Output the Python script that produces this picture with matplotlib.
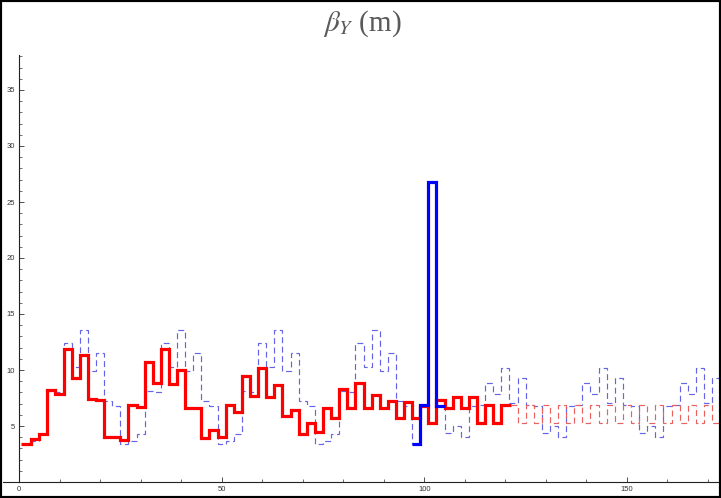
import numpy as np
import matplotlib
matplotlib.use("Agg")
import matplotlib.pyplot as plt
from matplotlib.patches import Rectangle
from matplotlib.ticker import MultipleLocator

plt.rcParams["mathtext.fontset"] = "stix"

# --- data: beta_Y (m) along the line, piecewise constant per element ---
# lattice reference (thin dashed blue)
blue_edges = [1, 3, 5, 7, 9, 11, 13, 15, 17, 19, 21, 23, 25, 27, 29, 31, 33, 35, 37, 39,
              41, 43, 45, 47, 49, 51, 53, 55, 57, 59, 61, 63, 65, 67, 69, 71, 73, 75, 77,
              79, 81, 83, 85, 87, 89, 91, 93, 95, 97, 99, 101, 103, 105, 107, 109, 111,
              113, 115, 117, 119, 121, 123, 125, 127, 129, 131, 133, 135, 137, 139, 141,
              143, 145, 147, 149, 151, 153, 155, 157, 159, 161, 163, 165, 167, 169, 171,
              173]
blue_beta = [3.4, 3.7, 4.25, 8.15, 8.05, 12.4, 10.3, 13.6, 9.95, 11.55, 7.25, 6.8,
             3.4, 3.7, 4.25, 8.15, 8.05, 12.4, 10.3, 13.6, 9.95, 11.55, 7.25, 6.8,
             3.4, 3.7, 4.25, 8.15, 8.05, 12.4, 10.3, 13.6, 9.95, 11.55, 7.25, 6.8,
             3.4, 3.7, 4.25, 8.15, 8.05, 12.4, 10.3, 13.6, 9.95, 11.55, 7.25, 6.8,
             3.4, 6.9, 26.8, 6.8,
             4.35, 5.0, 4.05, 6.8, 6.9, 8.87, 7.9, 10.15, 7.05, 9.26, 6.9, 6.8,
             4.35, 5.0, 4.05, 6.8, 6.9, 8.87, 7.9, 10.15, 7.05, 9.26, 6.9, 6.8,
             4.35, 5.0, 4.05, 6.8, 6.9, 8.87, 7.9, 10.15, 7.05, 9.26]

# matched line (thick red)
red_edges = [0.5, 3, 5, 7, 9, 11, 13, 15, 17, 19, 21, 23, 25, 27, 29, 31, 33, 35, 37, 39,
             41, 43, 45, 47, 49, 51, 53, 55, 57, 59, 61, 63, 65, 67, 69, 71, 73, 75, 77,
             79, 81, 83, 85, 87, 89, 91, 93, 95, 97, 99, 101, 103, 105, 107, 109, 111,
             113, 115, 117, 119, 121.4]
red_beta = [3.4, 3.8, 4.3, 8.2, 7.9, 11.85, 9.3, 11.3, 7.4, 7.3, 4.05, 4.05,
            3.75, 6.85, 6.7, 10.7, 8.8, 11.9, 8.75, 10.0, 6.6, 6.6, 3.9, 4.6,
            4.05, 6.85, 6.25, 9.5, 7.7, 10.15, 7.6, 8.65, 5.9, 6.4, 4.25, 5.3,
            4.45, 6.65, 5.7, 8.3, 6.6, 8.8, 6.65, 7.75, 6.6, 7.2, 5.7, 7.1,
            5.7, 6.75, 5.25, 7.3, 6.6, 7.55, 6.6, 7.55, 5.3, 6.9, 5.3, 6.9]

# periodic continuation (thin dashed red)
red_cont_edges = [121.4, 123, 125, 127, 129, 131, 133, 135, 137, 139, 141, 143, 145, 147,
                  149, 151, 153, 155, 157, 159, 161, 163, 165, 167, 169, 171, 173]
red_cont_beta = [6.9, 5.3, 6.9, 5.3, 6.9, 5.3, 6.9, 5.3, 6.9, 5.3, 6.9, 5.3, 6.9,
                 5.3, 6.9, 5.3, 6.9, 5.3, 6.9, 5.3, 6.9, 5.3, 6.9, 5.3, 6.9, 5.3]

# insertion (thick blue)
ins_edges = [97, 99, 101, 103, 105]
ins_beta = [3.4, 6.9, 26.8, 6.8]

W, H = 721, 498
fig = plt.figure(figsize=(W / 100, H / 100), dpi=100)
fig.patch.set_facecolor("white")

# axes box in pixel terms: origin at (19, 482), top of y axis at 55
x_per_px = 1 / 4.053
ax = fig.add_axes([3 / W, (H - 482) / H, (719 - 3) / W, (482 - 55) / H])
ax.set_xlim((3 - 19) * x_per_px, (719 - 19) * x_per_px)
ax.set_ylim(0, (482 - 55) / 11.2)

ax.stairs(blue_beta, blue_edges, baseline=None, color="#6464e6", lw=0.85,
          linestyle=(0, (5, 3)), zorder=2)
ax.stairs(red_cont_beta, red_cont_edges, baseline=None, color="#ea6060", lw=0.85,
          linestyle=(0, (5, 3)), zorder=2)
ax.stairs(red_beta, red_edges, baseline=None, color="#ff0000", lw=2.3, zorder=3)
ax.stairs(ins_beta, ins_edges, baseline=None, color="#0000ff", lw=2.3, zorder=4)

# axes crossing at the origin, Mathematica-like inward ticks
for side in ("top", "right"):
    ax.spines[side].set_visible(False)
ax.spines["left"].set_position(("data", 0))
ax.spines["bottom"].set_position(("data", 0))
for side in ("left", "bottom"):
    ax.spines[side].set_color("#222222")
    ax.spines[side].set_linewidth(0.8)

ax.xaxis.set_major_locator(MultipleLocator(50))
ax.xaxis.set_minor_locator(MultipleLocator(10))
ax.yaxis.set_major_locator(MultipleLocator(5))
ax.yaxis.set_minor_locator(MultipleLocator(1))
ax.set_yticks([5, 10, 15, 20, 25, 30, 35])
ax.tick_params(which="major", direction="in", length=3.5, width=0.6, color="#333333",
               labelsize=5.5, labelcolor="#333333", pad=3)
ax.tick_params(which="minor", direction="in", length=2, width=0.5, color="#333333")
for lab in ax.get_xticklabels() + ax.get_yticklabels():
    lab.set_family("Liberation Sans")

fig.text(0.5025, 0.953, r"$\beta_Y$ (m)", ha="center", va="center", fontsize=21,
         color="#5a5a5a", family="Liberation Serif")

# outer frame
fig.patches.append(Rectangle((0, 0), 1, 1, transform=fig.transFigure, fill=False,
                             edgecolor="black", lw=3, zorder=10))

fig.savefig("out.png", dpi=100)
